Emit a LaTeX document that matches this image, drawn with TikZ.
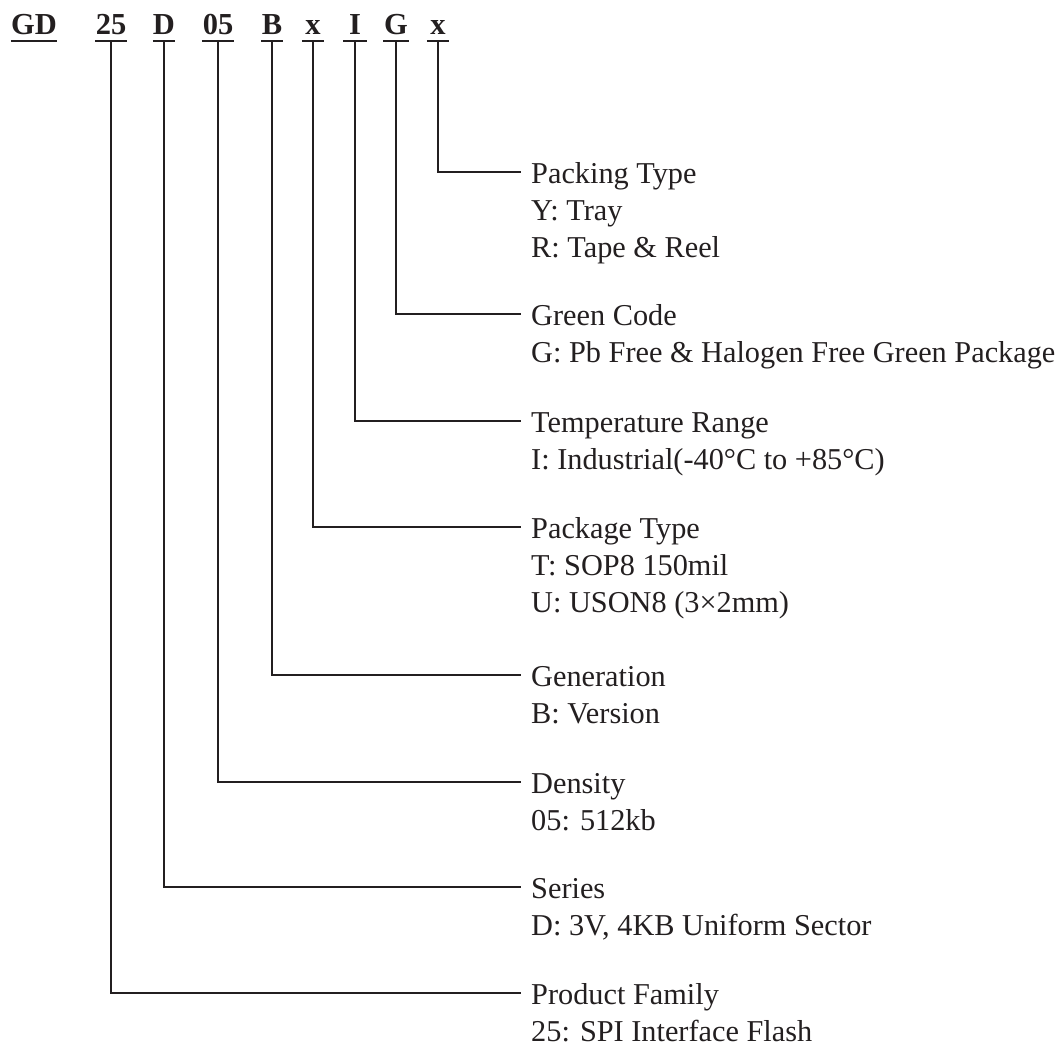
\documentclass[tikz,border=0pt]{standalone}
\usepackage{fontspec}
\setmainfont{Liberation Serif}
\definecolor{ink}{RGB}{35,31,32}
\begin{document}
\begin{tikzpicture}[x=1pt,y=-1pt,
  hdr/.style={font=\fontsize{30.5}{36}\selectfont\bfseries, inner sep=0pt, text depth=6pt, anchor=base, text=ink},
  ttl/.style={font=\fontsize{30.3}{37}\selectfont, inner xsep=10pt, inner ysep=0pt, text height=22pt, text depth=0pt, anchor=west, text=ink},
  dsc/.style={font=\fontsize{30.3}{37}\selectfont, inner xsep=10pt, inner ysep=0pt, anchor=base west, text=ink},
  lead/.style={draw=ink, line width=1.5pt},
  uline/.style={draw=ink, line width=1.8pt}]
\useasboundingbox (0,0) rectangle (1059,1049);

% header code
\node[hdr, minimum width=44pt] (gd)  at (34,35)  {GD};
\node[hdr, minimum width=31pt] (h25) at (111,35) {25};
\node[hdr, minimum width=22pt] (hD)  at (164,35) {D};
\node[hdr, minimum width=32pt] (h05) at (218,35) {05};
\node[hdr, minimum width=21pt] (hB)  at (272,35) {B};
\node[hdr, minimum width=22pt] (hx1) at (313,35) {x};
\node[hdr, minimum width=23pt] (hI)  at (355,35) {I};
\node[hdr, minimum width=25pt] (hG)  at (396,35) {G};
\node[hdr, minimum width=22pt] (hx2) at (438,35) {x};

\foreach \n in {gd,h25,hD,h05,hB,hx1,hI,hG,hx2}
  \draw[uline] (\n.south west) -- (\n.south east);

% labels
\node[ttl] (pk) at (521,172) {Packing Type};
\node[dsc] (pk1) at ([yshift=-37pt]pk.base west) {Y: Tray};
\node[dsc] (pk2) at ([yshift=-74pt]pk.base west) {R: Tape \& Reel};

\node[ttl] (gc) at (521,314) {Green Code};
\node[dsc] (gc1) at ([yshift=-37pt]gc.base west) {G: Pb Free \& Halogen Free Green Package};

\node[ttl] (tr) at (521,421) {Temperature Range};
\node[dsc] (tr1) at ([yshift=-37pt]tr.base west) {I: Industrial(-40°C to +85°C)};

\node[ttl] (pt) at (521,527) {Package Type};
\node[dsc] (pt1) at ([yshift=-37pt]pt.base west) {T: SOP8 150mil};
\node[dsc] (pt2) at ([yshift=-74pt]pt.base west) {U: USON8 (3×2mm)};

\node[ttl] (gen) at (521,675) {Generation};
\node[dsc] (gen1) at ([yshift=-37pt]gen.base west) {B: Version};

\node[ttl] (den) at (521,782) {Density};
\node[dsc] (den1) at ([yshift=-37pt]den.base west) {05: 512kb};

\node[ttl] (ser) at (521,887) {Series};
\node[dsc] (ser1) at ([yshift=-37pt]ser.base west) {D: 3V, 4KB Uniform Sector};

\node[ttl] (pf) at (521,993) {Product Family};
\node[dsc] (pf1) at ([yshift=-37pt]pf.base west) {25: SPI Interface Flash};

% leaders
\draw[lead] (hx2.south) |- (pk.west);
\draw[lead] (hG.south)  |- (gc.west);
\draw[lead] (hI.south)  |- (tr.west);
\draw[lead] (hx1.south) |- (pt.west);
\draw[lead] (hB.south)  |- (gen.west);
\draw[lead] (h05.south) |- (den.west);
\draw[lead] (hD.south)  |- (ser.west);
\draw[lead] (h25.south) |- (pf.west);
\end{tikzpicture}
\end{document}
